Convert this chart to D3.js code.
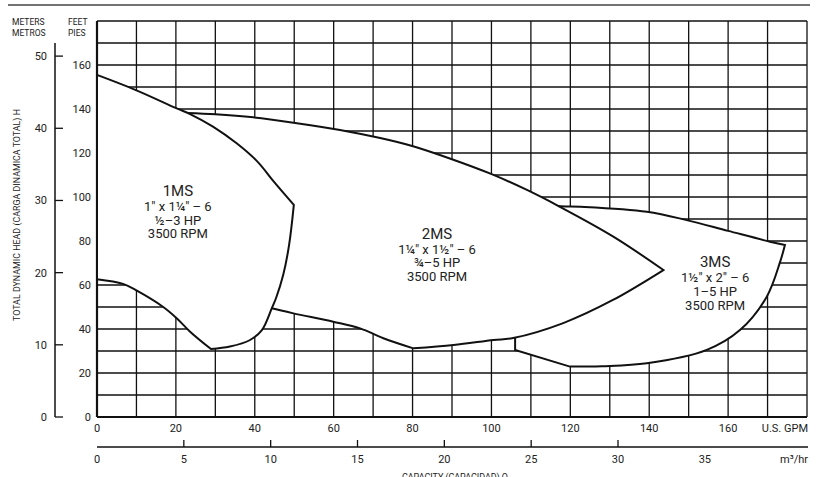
<!DOCTYPE html>
<html><head><meta charset="utf-8">
<script src="https://cdn.jsdelivr.net/npm/d3@7"></script>
<style>
body{margin:0;background:#fff}
svg{display:block}
text{font-family:Roboto,"Liberation Sans",sans-serif;fill:#222}
</style>
</head><body>
<svg id="c" width="822" height="477"></svg>
<script>
// ---- data ----
const gpmTicks = [0, 20, 40, 60, 80, 100, 120, 140, 160];
const gpmGrid = [0,10,20,30,40,50,60,70,80,90,100,110,120,130,140,150,160,170,180];
const feetGrid = [0,10,20,30,40,50,60,70,80,90,100,110,120,130,140,150,160,170,180];
const feetTicks = [0, 20, 40, 60, 80, 100, 120, 140, 160];
const meterTicks = [0, 10, 20, 30, 40, 50];
const m3Labels = [0, 5, 10, 15, 20, 25, 30, 35];
const m3TickMarks = [5, 10, 15, 20, 25, 30];

// region outlines: [GPM, feet] points, one array per edge
const ms1Edges = [
  [[0,155.5],[10,148.5],[20.2,140.3],[23.6,137.7],[29.4,132],[35.4,124.4],[40.5,116.4],[45.1,106.4],[49.9,96.4]],
  [[49.9,96.4],[48.7,78.2],[47.2,64.5],[45.4,54.1],[44.3,49.4],[41.8,39.5],[38.8,35],[33.7,32],[28.9,30.9]],
  [[28.9,30.9],[23.6,38.8],[20.2,44.9],[16.7,50.1],[10.1,57.4],[6.6,60.5],[0,62.6]],
  [[0,62.6],[0,155.5]]
];
const ms2Edges = [
  [[22.8,138.2],[30,137.6],[39.6,136.2],[49.8,133.8],[61.6,130.5],[71.8,126.8],[79.9,123.2],[89.8,117.3],[99.9,110.5],[109,103.2],[117,95.9],[130.9,82],[143.6,66.8]],
  [[143.6,66.8],[130.8,53.2],[118.2,42.7],[105.5,35.9],[100.5,35],[90.4,32.7],[80.2,31.2]],
  [[80.2,31.2],[72.6,35.8],[66.7,40.3],[59.9,43.3],[49.8,47.1],[44.3,49.4],[40,51.5]],
  [[40,51.5],[22.8,138.2]]
];
const ms3Edges = [
  [[113,97.5],[117,95.9],[122.5,95.6],[139.4,93.3],[149.5,89.5],[160,84.6],[170.6,79.7],[174.4,78.2]],
  [[174.4,78.2],[173.2,70.6],[169.8,54.7],[163,39.5],[154.6,30.5],[139.4,24.4],[128,23.1],[119.9,22.9]],
  [[119.9,22.9],[106,30.5]],
  [[106,30.5],[106,42]],
  [[106,42],[113,97.5]]
];

const labels = [
  {x: 20.5, lines: ["1MS", "1\" x 1¼\" – 6", "½–3 HP", "3500 RPM"], y0: 100.5},
  {x: 86.2, lines: ["2MS", "1¼\" x 1½\" – 6", "¾–5 HP", "3500 RPM"], y0: 81},
  {x: 156.7, lines: ["3MS", "1½\" x 2\" – 6", "1–5 HP", "3500 RPM"], y0: 68}
];

// ---- scales ----
const svg = d3.select("#c");
const x = d3.scaleLinear().domain([0, 180]).range([97, 807]);
const y = d3.scaleLinear().domain([0, 180]).range([417, 21]);
const ym = d3.scaleLinear().domain([0, 180 / 3.28084]).range([417, 21]);
const xm = d3.scaleLinear().domain([0, 180 / 4.402868]).range([97, 807]);

// top rule
svg.append("line").attr("x1", 8).attr("x2", 810).attr("y1", 5).attr("y2", 5)
  .attr("stroke", "#444").attr("stroke-width", 1.6);

// grid
const g = svg.append("g");
g.selectAll(".vx").data(gpmGrid).join("line")
  .attr("x1", d => x(d)).attr("x2", d => x(d)).attr("y1", y(0)).attr("y2", y(180))
  .attr("stroke", "#111").attr("stroke-width", d => d === 0 ? 2.2 : 1.3);
g.selectAll(".hy").data(feetGrid).join("line")
  .attr("x1", x(0)).attr("x2", x(180)).attr("y1", d => y(d)).attr("y2", d => y(d))
  .attr("stroke", "#111").attr("stroke-width", d => d === 0 ? 1.8 : 1.3);

// regions
function regionPath(edges) {
  let d = "";
  edges.forEach((e, i) => {
    const ln = d3.line().x(p => x(p[0])).y(p => y(p[1]))
      .curve(e.length > 2 ? d3.curveCatmullRom.alpha(0.5) : d3.curveLinear);
    let s = ln(e);
    if (i > 0) s = "L" + s.slice(1);
    d += s;
  });
  return d + "Z";
}
[ms3Edges, ms2Edges, ms1Edges].forEach(edges => {
  svg.append("path").attr("d", regionPath(edges))
    .attr("fill", "#fff").attr("stroke", "#111").attr("stroke-width", 2)
    .attr("stroke-linejoin", "miter");
});

// region labels
labels.forEach(l => {
  l.lines.forEach((s, i) => {
    svg.append("text").attr("text-anchor", "middle")
      .attr("x", x(l.x))
      .attr("y", y(l.y0) + (i === 0 ? 0 : 15 + (i - 1) * 13.6))
      .attr("font-size", i === 0 ? 15 : 13)
      .text(s);
  });
});

// feet labels
svg.selectAll(".ft").data(feetTicks).join("text")
  .attr("x", 91).attr("y", d => y(d) + 4).attr("text-anchor", "end")
  .attr("font-size", 11).text(d => d);

// meters axis
svg.append("line").attr("x1", 55).attr("x2", 55).attr("y1", 43).attr("y2", ym(0))
  .attr("stroke", "#111").attr("stroke-width", 1.5);
svg.selectAll(".mt").data(meterTicks).join("line")
  .attr("x1", 55).attr("x2", 63).attr("y1", d => ym(d)).attr("y2", d => ym(d))
  .attr("stroke", "#111").attr("stroke-width", 1.3);
svg.selectAll(".ml").data(meterTicks).join("text")
  .attr("x", 47).attr("y", d => ym(d) + 4).attr("text-anchor", "end")
  .attr("font-size", 11).text(d => d);

// unit headers
[["METERS", 12, 25], ["METROS", 12, 36], ["FEET", 68, 25], ["PIES", 68, 36]].forEach(([s, xx, yy]) => {
  svg.append("text").attr("x", xx).attr("y", yy).attr("font-size", 8.5).text(s);
});

// vertical title
svg.append("text").attr("transform", "translate(20,215) rotate(-90)")
  .attr("text-anchor", "middle").attr("font-size", 8.5)
  .attr("textLength", 212).attr("lengthAdjust", "spacingAndGlyphs")
  .text("TOTAL DYNAMIC HEAD (CARGA DINAMICA TOTAL) H");

// GPM labels
svg.selectAll(".gl").data(gpmTicks).join("text")
  .attr("x", d => x(d)).attr("y", 432).attr("text-anchor", "middle")
  .attr("font-size", 11).text(d => d);
svg.append("text").attr("x", 808).attr("y", 432).attr("text-anchor", "end")
  .attr("font-size", 11).text("U.S. GPM");

// m3/hr axis
svg.append("line").attr("x1", x(0)).attr("x2", 808).attr("y1", 447).attr("y2", 447)
  .attr("stroke", "#111").attr("stroke-width", 1.5);
svg.selectAll(".m3t").data(m3TickMarks).join("line")
  .attr("x1", d => xm(d)).attr("x2", d => xm(d)).attr("y1", 447).attr("y2", 440)
  .attr("stroke", "#111").attr("stroke-width", 1.3);
svg.selectAll(".m3l").data(m3Labels).join("text")
  .attr("x", d => xm(d)).attr("y", 463).attr("text-anchor", "middle")
  .attr("font-size", 11).text(d => d);
svg.append("text").attr("x", 808).attr("y", 463).attr("text-anchor", "end")
  .attr("font-size", 11).text("m³/hr");

svg.append("text").attr("x", 455).attr("y", 480).attr("text-anchor", "middle")
  .attr("font-size", 8.5).attr("textLength", 106).attr("lengthAdjust", "spacingAndGlyphs")
  .text("CAPACITY (CAPACIDAD) Q");
</script>
</body></html>
